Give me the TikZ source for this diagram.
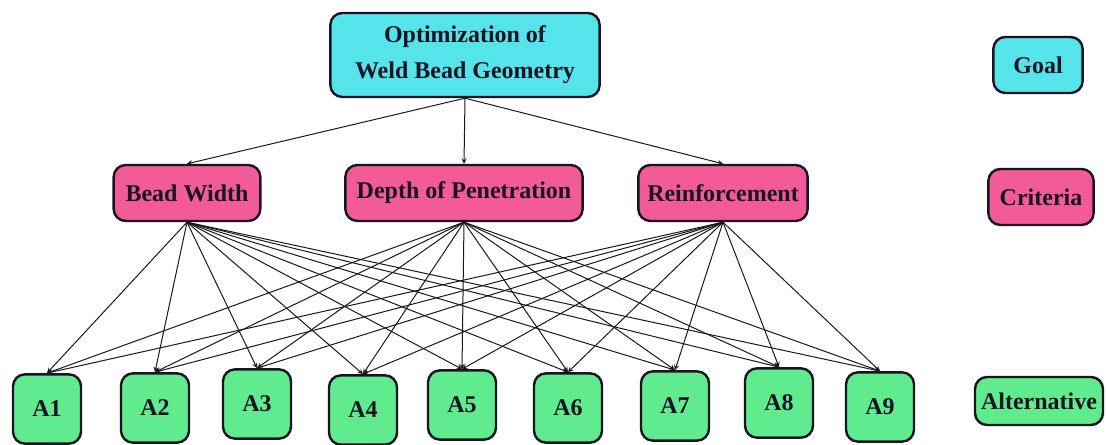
\documentclass[tikz,border=0pt]{standalone}
\usepackage{fontspec}
\setmainfont{Liberation Serif}
\definecolor{goalcyan}{RGB}{86,228,235}
\definecolor{critpink}{RGB}{242,90,152}
\definecolor{altgreen}{RGB}{96,235,142}
\definecolor{inkdark}{RGB}{25,20,35}
\begin{document}
\begin{tikzpicture}[x=0.75pt,y=0.75pt,>=stealth,
	box/.style={draw=inkdark,line width=1.8pt,rounded corners=9pt,align=center,
		text=inkdark,font=\fontsize{18}{27}\selectfont\bfseries,inner sep=2pt},
	goalbox/.style={box,fill=goalcyan},
	critbox/.style={box,fill=critpink,minimum height=42pt},
	altbox/.style={box,fill=altgreen,minimum width=51pt,minimum height=52pt},
	link/.style={->,line width=0.75pt,black!90}]
	
	%----------------------
	% khung hình
	%----------------------
	\useasboundingbox (0,0) rectangle (1107,445);
	
	% Mục tiêu
	\node[goalbox,minimum width=202pt,minimum height=63pt] (goal) at (465,390)
	{Optimization of\\Weld Bead Geometry};
	
	% Tiêu chí
	\node[critbox,minimum width=110pt] (bw) at (187,252) {Bead Width};
	\node[critbox,minimum width=178pt] (dp) at (464,252) {Depth of Penetration};
	\node[critbox,minimum width=127pt] (re) at (723,252) {Reinforcement};
	
	% Phương án
	\foreach \i/\x/\y in {1/47/36,2/155/37,3/257/41,4/363/35,5/462/40,
		6/568/37,7/675/39,8/779/42,9/880/38}
	\node[altbox] (A\i) at (\x,\y) {A\i};
	
	% Chú thích
	\node[goalbox,minimum width=67pt,minimum height=42pt] (lgoal) at (1038,380) {Goal};
	\node[critbox,minimum width=79pt] (lcrit) at (1041,248) {Criteria};
	\node[box,fill=altgreen,minimum width=96pt,minimum height=36pt] (lalt) at (1039,44) {Alternative};
	
	%----------------------
	% Mũi tên
	%----------------------
	\foreach \c in {bw,dp,re}
	\draw[link] (goal.south) -- (\c.north);
	
	\foreach \c in {bw,dp,re}
	\foreach \i in {1,...,9}
	\draw[link] (\c.south) -- (A\i.north);
	
\end{tikzpicture}
\end{document}
